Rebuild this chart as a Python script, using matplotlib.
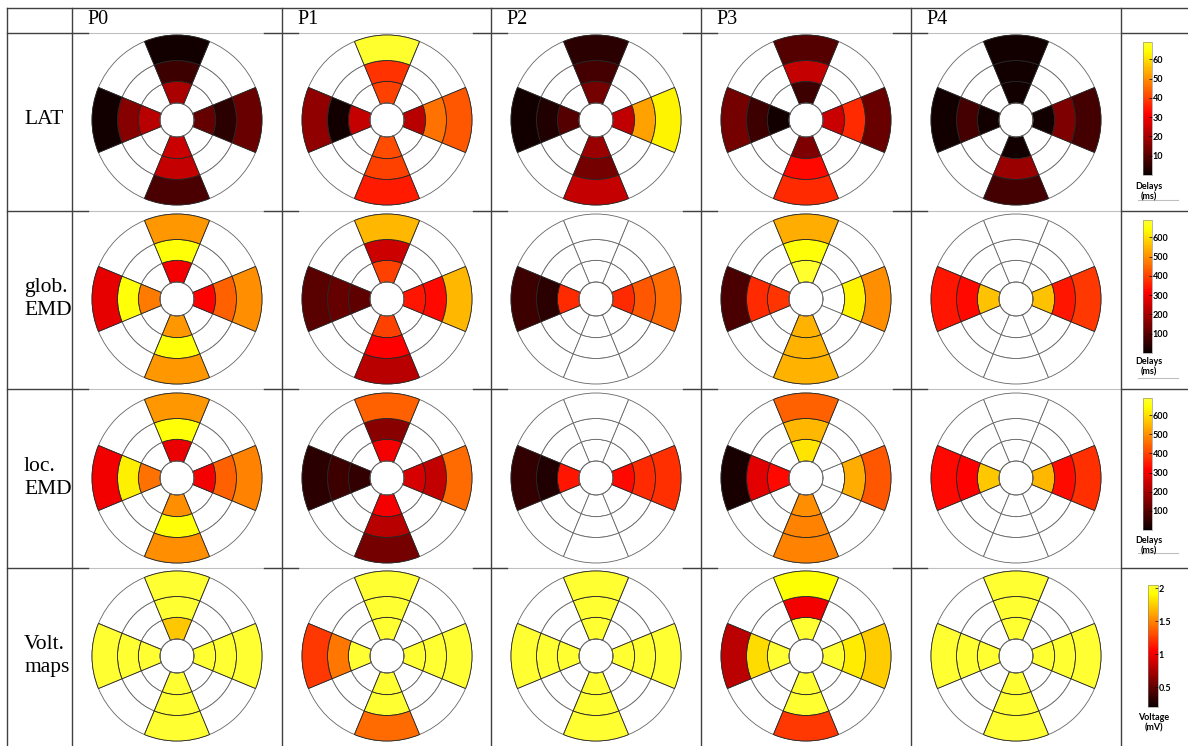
import numpy as np
import matplotlib
matplotlib.use('Agg')
import matplotlib.pyplot as plt
from matplotlib.colors import ListedColormap, Normalize
from matplotlib.cm import ScalarMappable
from matplotlib.lines import Line2D

W, H = 1188, 746
nan = np.nan

patients = ['P0', 'P1', 'P2', 'P3', 'P4']
row_labels = ['LAT', 'glob.\nEMD', 'loc.\nEMD', 'Volt.\nmaps']

# each patient: 4 sectors (top, right, bottom, left) x 3 rings (inner, middle, outer)
lat_vals = [
    [[21, 6.5, 1.3], [11.6, 4.5, 12.3], [25, 24, 8.4], [22.6, 16, 1.3]],
    [[40, 38, 68], [22.6, 46, 42.7], [41.4, 40, 35], [24, 1.3, 17.5]],
    [[13.6, 7.8, 4.5], [23.3, 52.4, 62.8], [18.8, 13.6, 24], [9.7, 3.2, 1.3]],
    [[6.5, 24, 9.7], [24.6, 36.9, 12.3], [14.9, 32.4, 36.9], [1.3, 6.5, 13.6]],
    [[1.3, 1.3, 1.3], [1.3, 14.9, 7.8], [1.3, 18.8, 7.8], [1.3, 7.8, 1.3]],
]
glob_emd_vals = [
    [[304, 647, 511], [317, 440, 498], [511, 647, 511], [472, 647, 285]],
    [[401, 252, 550], [343, 324, 550], [401, 317, 226], [110, 116, 104]],
    [[nan, nan, nan], [369, 427, 453], [nan, nan, nan], [369, 45, 65]],
    [[680, 647, 537], [nan, 628, 498], [543, 543, 543], [382, 369, 84]],
    [[nan, nan, nan], [563, 343, 388], [nan, nan, nan], [563, 324, 343]],
]
loc_emd_vals = [
    [[291, 647, 511], [304, 440, 485], [498, 647, 498], [459, 621, 298]],
    [[304, 162, 440], [265, 239, 453], [304, 226, 136], [52, 65, 45]],
    [[nan, nan, nan], [324, 369, 375], [nan, nan, nan], [343, 32, 52]],
    [[608, 550, 440], [nan, 537, 427], [498, 485, 485], [324, 278, 19]],
    [[nan, nan, nan], [550, 330, 375], [nan, nan, nan], [569, 317, 324]],
]
volt_vals = [
    [[1.73, 2.03, 2.03], [2.03, 2.03, 2.03], [2.03, 2.03, 2.03], [2.03, 2.03, 2.03]],
    [[2.03, 2.03, 2.03], [2.03, 2.03, 2.03], [2.03, 2.03, 1.41], [2.03, 1.45, 1.24]],
    [[2.03, 2.03, 2.03], [2.03, 2.03, 2.03], [2.03, 2.03, 2.03], [2.03, 2.03, 2.03]],
    [[2.03, 1.01, 1.93], [2.03, 1.85, 1.74], [2.03, 2.03, 1.24], [2.03, 1.80, 0.81]],
    [[2.03, 2.03, 2.03], [2.03, 2.03, 2.03], [2.03, 2.03, 2.03], [2.03, 2.03, 2.03]],
]

row_data = [lat_vals, glob_emd_vals, loc_emd_vals, volt_vals]
row_ranges = [(0, 69), (0, 690), (0, 690), (0.2, 2.05)]
row_ticks = [[10, 20, 30, 40, 50, 60],
             [100, 200, 300, 400, 500, 600],
             [100, 200, 300, 400, 500, 600],
             [0.5, 1, 1.5, 2]]
row_tick_labels = [None, None, None, ['0.5', '1', '1.5', '2']]
cbar_labels = ['Delays\n(ms)', 'Delays\n(ms)', 'Delays\n(ms)', 'Voltage\n(mV)']

sector_angles = [90, 0, 270, 180]
ring_bottom = [0.2, 0.455, 0.70]
ring_height = [0.255, 0.245, 0.30]

cmap = ListedColormap(plt.cm.hot(np.linspace(0, 0.8, 256)))

# layout in pixels (from top-left)
col_edges = [7, 72, 282, 491, 701, 911, 1121]
row_edges = [8, 33, 211, 389, 568]
row_centers = [120, 299, 478, 656]
R = 85

fig = plt.figure(figsize=(W / 100, H / 100), dpi=100)


def px_axes(x, y, w, h, **kw):
    return fig.add_axes([x / W, 1 - (y + h) / H, w / W, h / H], **kw)


def line(x0, x1, y0, y1, color, lw):
    fig.add_artist(Line2D([x0 / W, x1 / W], [1 - y0 / H, 1 - y1 / H],
                          color=color, lw=lw, transform=fig.transFigure))


def draw_bullseye(ax, vals, norm):
    for a in np.deg2rad(np.arange(0, 360, 45)):
        for b, h in zip(ring_bottom, ring_height):
            ax.bar(a, h, width=np.pi / 4, bottom=b, color='white',
                   edgecolor='0.4', linewidth=0.6)
    for s, ang in enumerate(sector_angles):
        for r in range(3):
            v = vals[s][r]
            if np.isnan(v):
                continue
            ax.bar(np.deg2rad(ang), ring_height[r], width=np.pi / 4,
                   bottom=ring_bottom[r], color=cmap(norm(v)),
                   edgecolor='0.15', linewidth=0.6)
    th = np.linspace(0, 2 * np.pi, 200)
    ax.plot(th, np.full(200, ring_bottom[0]), color='0.4', lw=0.6)
    ax.set_ylim(0, 1.02)
    ax.set_axis_off()


# table lines
dark = '0.25'
line(7, W, 8, 8, dark, 1.0)
for x in col_edges:
    line(x, x, 8, H, dark, 1.0)
for y in row_edges[1:]:
    line(7, 72, y, y, dark, 1.0)
    line(72, 1121, y, y, '0.75', 0.8)
    for x in col_edges[1:-1]:
        line(max(x - 18, 72), x + 16, y, y, dark, 1.0)
    line(1121, W, y, y, dark, 1.0)

# header and row labels
for j, p in enumerate(patients):
    fig.text((col_edges[j + 1] + 15) / W, 1 - 20 / H, p, ha='left', va='center',
             fontsize=14.5, family='Liberation Serif')
for i, lab in enumerate(row_labels):
    fig.text(24 / W, 1 - row_centers[i] / H, lab, ha='left', va='center',
             fontsize=15.5, family='Liberation Serif', linespacing=1.3)

# bullseyes
Rb = R * 1.02
for i in range(4):
    norm = Normalize(*row_ranges[i])
    for j in range(5):
        cx = col_edges[j + 1] + 105
        ax = px_axes(cx - Rb, row_centers[i] - Rb, 2 * Rb, 2 * Rb, projection='polar')
        draw_bullseye(ax, row_data[i][j], norm)

# colorbars
cbar_rects = [(1143, 42, 9, 133), (1143, 220, 9, 133), (1143, 398, 9, 132), (1148, 585, 10, 122)]
label_y = [182, 357, 536, 713]
sep_y = [200, 378, 553, None]
for i in range(4):
    x, y, w, h = cbar_rects[i]
    cax = px_axes(x, y, w, h)
    sm = ScalarMappable(Normalize(*row_ranges[i]), cmap)
    cb = fig.colorbar(sm, cax=cax, ticks=row_ticks[i])
    if row_tick_labels[i]:
        cb.set_ticklabels(row_tick_labels[i])
    cb.outline.set_linewidth(0.4)
    cb.outline.set_edgecolor('0.5')
    cax.tick_params(direction='in', length=2, width=0.5, pad=0.5, labelsize=6.5)
    for t in cax.get_yticklabels():
        t.set_family('Lato')
        t.set_fontweight('bold')
    fig.text((x + w / 2 + 1) / W, 1 - label_y[i] / H, cbar_labels[i], ha='center',
             va='top', multialignment='center', fontsize=6.5, family='Lato',
             fontweight='bold', linespacing=1.25)
    if sep_y[i]:
        line(1138, 1178, sep_y[i], sep_y[i], '0.75', 0.8)

fig.savefig('out.png', dpi=100)
